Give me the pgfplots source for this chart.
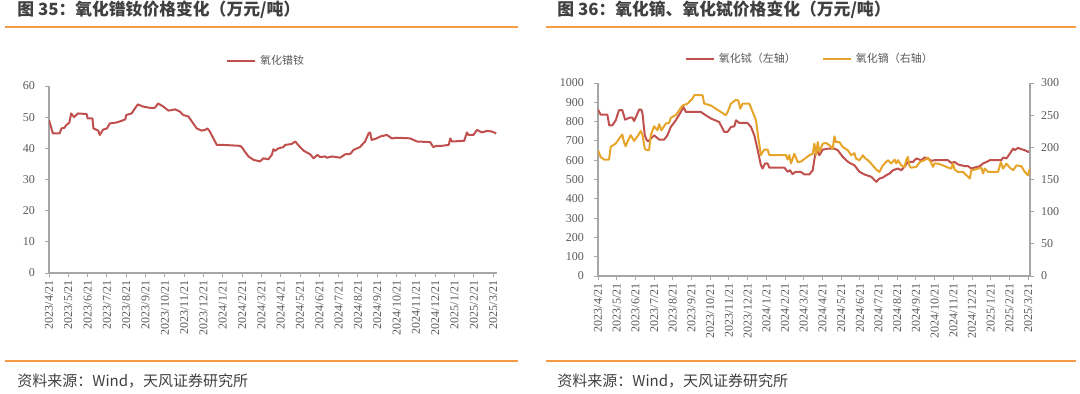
\documentclass[border=0pt]{standalone}
\usepackage{pgfplots}
\pgfplotsset{compat=1.18}
\usepackage{fontspec}
\setmainfont{Liberation Serif}
\newfontfamily\cjk{Noto Sans CJK SC}
\definecolor{rd}{HTML}{C0504D}
\definecolor{yl}{HTML}{E6A52A}
\definecolor{og}{HTML}{F59A45}
\definecolor{axg}{HTML}{A6A6A6}
\definecolor{lbl}{HTML}{595959}
\definecolor{ttl}{HTML}{404040}
\pgfplotsset{
  mybase/.style={
    scale only axis,
    xmin=0,
    xtick={0,...,23},
    xticklabels={2023/4/21,2023/5/21,2023/6/21,2023/7/21,2023/8/21,2023/9/21,2023/10/21,2023/11/21,2023/12/21,2024/1/21,2024/2/21,2024/3/21,2024/4/21,2024/5/21,2024/6/21,2024/7/21,2024/8/21,2024/9/21,2024/10/21,2024/11/21,2024/12/21,2025/1/21,2025/2/21,2025/3/21},
    tick align=outside,
    major tick length=2pt,
    tick style={axg, line width=0.5pt},
    axis line style={axg, line width=0.6pt, -},
    xticklabel style={rotate=90, anchor=east, font=\fontsize{6}{6}\selectfont, text=lbl, inner sep=1.5pt},
    yticklabel style={font=\fontsize{6}{6}\selectfont, text=lbl},
    /pgf/number format/assume math mode=true,
    /pgf/number format/1000 sep={},
  }
}
\begin{document}
\begin{tikzpicture}
\path[use as bounding box] (0pt,0pt) rectangle (540pt,-196.5pt);
\begin{scope}[x=0.5pt,y=-0.5pt]
\draw[og, line width=1pt] (5,27) -- (518,27);
\draw[og, line width=1pt] (546,27) -- (1076,27);
\draw[og, line width=1pt] (5,361) -- (518,361);
\draw[og, line width=1pt] (546,361) -- (1076,361);
\node[anchor=base west, inner sep=0pt, font=\cjk\bfseries\fontsize{8.4}{10}\selectfont, text=ttl] at (17,15) {图 35：氧化镨钕价格变化（万元/吨）};
\node[anchor=base west, inner sep=0pt, font=\cjk\bfseries\fontsize{8.4}{10}\selectfont, text=ttl] at (557,15) {图 36：氧化镝、氧化铽价格变化（万元/吨）};
\node[anchor=base west, inner sep=0pt, font=\cjk\fontsize{7.5}{9}\selectfont, text=ttl] at (17,386) {资料来源：Wind，天风证券研究所};
\node[anchor=base west, inner sep=0pt, font=\cjk\fontsize{7.5}{9}\selectfont, text=ttl] at (557,386) {资料来源：Wind，天风证券研究所};
\end{scope}

% ---------- left chart ----------
\begin{axis}[mybase, at={(24.5pt,-136.5pt)}, anchor=south west,
  width=224pt, height=93.5pt, xmax=23.2, ymin=0, ymax=60, ytick={0,10,...,60},
  axis x line*=bottom, axis y line*=left,
  yticklabel style={xshift=-1.5pt},
  legend style={at={(0.487,1.134)}, anchor=center, draw=none, fill=none,
    font=\cjk\fontsize{5.5}{6}\selectfont, text=lbl},
  legend image code/.code={\draw[#1,line width=1pt] (0pt,0pt) -- (14pt,0pt);}]
\addplot[rd, line width=1pt, line join=round] coordinates {
(0,49.1) (0.2,44.8) (0.55,44.8) (0.65,46.4) (0.8,46.6) (0.9,47.5) (1.05,48.2) (1.15,51.2) (1.3,50.0) (1.5,51.2) (1.95,51.0) (2.0,49.6) (2.25,49.6) (2.3,46.4) (2.55,45.7) (2.63,44.3) (2.8,46.0) (3.0,46.4) (3.15,48.0) (3.5,48.3) (3.75,48.8) (3.95,49.3) (4.0,50.7) (4.28,51.2) (4.45,52.8) (4.6,54.1) (4.87,53.4) (5.22,53.0) (5.48,53.0) (5.65,54.4) (5.92,53.4) (6.18,52.1) (6.53,52.5) (6.78,51.8) (6.95,50.7) (7.22,50.2) (7.4,48.6) (7.65,46.4) (7.9,45.7) (8.08,45.9) (8.2,46.4) (8.33,45.4) (8.51,43.2) (8.69,41.1) (9.03,41.1) (9.9,40.8) (9.98,40.4) (10.16,38.8) (10.33,37.4) (10.59,36.3) (10.93,35.8) (11.1,36.8) (11.36,36.5) (11.54,37.9) (11.62,39.7) (11.71,39.2) (11.88,40.0) (12.14,40.4) (12.23,41.1) (12.57,41.4) (12.75,42.2) (13.0,40.4) (13.2,39.2) (13.52,38.1) (13.7,36.8) (13.9,37.9) (14.04,37.2) (14.3,37.4) (14.39,37.0) (14.65,37.4) (15.08,37.0) (15.34,38.1) (15.6,38.2) (15.77,39.5) (16.1,40.4) (16.37,42.2) (16.55,44.8) (16.63,45.1) (16.71,42.7) (16.97,43.2) (17.15,43.8) (17.5,44.3) (17.75,43.2) (18.0,43.4) (18.7,43.2) (18.88,42.7) (19.05,42.2) (19.74,42.0) (19.9,40.4) (20.07,40.8) (20.33,40.8) (20.7,41.1) (20.78,43.2) (20.86,42.2) (21.5,42.4) (21.64,45.1) (21.72,44.3) (21.98,44.3) (22.16,45.9) (22.42,45.1) (22.68,45.6) (22.93,45.4) (23.16,44.8)
};
\addlegendentry{氧化镨钕}
\end{axis}

% ---------- right chart ----------
\begin{axis}[mybase, at={(299pt,-138pt)}, anchor=south west,
  width=216pt, height=96.5pt, xmax=23.1, ymin=0, ymax=1000, ytick={0,100,...,1000},
  axis x line*=bottom, axis y line*=left,
  yticklabel style={xshift=-1.5pt}]
\addplot[rd, line width=1pt, line join=round] coordinates {
(0,862) (0.14,836) (0.5,836) (0.6,781) (0.77,781) (0.95,807) (1.12,859) (1.3,859) (1.45,810) (1.7,821) (1.84,821) (1.93,803) (2.07,833) (2.2,862) (2.32,862) (2.38,841) (2.5,730) (2.6,705) (2.68,698) (3.0,729) (3.27,707) (3.54,707) (3.71,729) (3.89,772) (4.16,807) (4.43,850) (4.57,876) (4.7,850) (5.5,850) (5.68,838) (6.04,816) (6.48,798) (6.75,747) (6.93,747) (7.11,772) (7.29,776) (7.38,807) (7.55,793) (8.0,793) (8.18,772) (8.36,729) (8.54,652) (8.71,574) (8.8,557) (8.93,583) (9.07,583) (9.16,562) (9.96,562) (10.14,540) (10.27,548) (10.4,528) (10.57,540) (10.84,540) (11.04,526) (11.3,526) (11.48,548) (11.62,634) (11.75,643) (11.84,626) (12.02,655) (12.29,660) (12.64,660) (12.82,652) (13.09,617) (13.27,600) (13.45,586) (13.71,574) (13.98,540) (14.25,526) (14.61,514) (14.88,488) (15.05,505) (15.23,510) (15.41,522) (15.59,531) (15.77,548) (16.04,557) (16.21,548) (16.39,566) (16.57,591) (16.84,591) (17.02,609) (17.29,600) (17.46,614) (17.64,609) (17.82,597) (18.0,600) (18.36,600) (18.71,600) (18.89,586) (19.07,591) (19.25,578) (19.61,569) (19.79,569) (19.96,557) (20.14,562) (20.41,569) (20.59,583) (20.77,591) (20.95,600) (21.57,600) (21.66,614) (21.84,609) (22.02,634) (22.2,660) (22.29,652) (22.46,664) (22.64,657) (22.82,652) (23.0,643) (23.09,647)
};
\end{axis}
\begin{axis}[mybase, at={(299pt,-138pt)}, anchor=south west,
  width=216pt, height=96.5pt, xmax=23.1, ymin=0, ymax=300, ytick={0,50,...,300},
  axis x line=none, axis y line*=right,
  legend style={at={(0.493,1.124)}, anchor=center, draw=none, fill=none,
    font=\cjk\fontsize{5.5}{6}\selectfont, text=lbl, legend columns=2,
    /tikz/every even column/.append style={column sep=11pt}},
  legend image code/.code={\draw[#1,line width=1pt] (0pt,0pt) -- (14pt,0pt);}]
\addlegendimage{rd, line width=1pt}
\addlegendentry{氧化铽（左轴）}
\addplot[yl, line width=1pt, line join=round] coordinates {
(0,195.5) (0.14,185) (0.32,181) (0.59,181) (0.68,200.7) (0.95,206) (1.13,213.6) (1.3,220) (1.39,208) (1.48,201.7) (1.61,211) (1.75,218.8) (1.93,210) (2.11,217) (2.29,225.5) (2.38,219) (2.5,198) (2.61,195.5) (2.73,195.5) (2.82,218.8) (3.0,232.8) (3.18,226.5) (3.27,236) (3.39,226.5) (3.63,237) (3.8,238) (3.89,246) (4.16,250) (4.34,257.6) (4.52,265) (4.79,268) (5.05,275.7) (5.14,281) (5.59,281) (5.68,268) (6.04,265) (6.3,260) (6.57,255) (6.84,250) (6.93,255) (7.11,268) (7.38,274) (7.5,273) (7.61,260) (7.73,268) (8.09,268) (8.27,255) (8.45,242) (8.54,221) (8.71,188) (8.89,196.5) (9.07,196.5) (9.16,188) (10.05,188) (10.14,181) (10.23,188) (10.32,175) (10.5,190) (10.68,177) (10.86,178) (11.04,182) (11.3,187.7) (11.48,190) (11.57,205.8) (11.66,188) (11.75,208) (11.84,193) (12.02,205.8) (12.2,206.8) (12.38,203) (12.55,198) (12.64,217) (12.73,208) (12.91,208) (13.09,200.6) (13.36,195.4) (13.54,187.7) (13.71,191) (13.8,182.5) (13.98,180) (14.16,187.7) (14.25,184) (14.43,180) (14.61,174.7) (14.88,165.4) (15.05,161.8) (15.23,172) (15.5,180) (15.68,175) (15.86,181) (15.95,175) (16.04,180) (16.21,172) (16.39,169.6) (16.48,180) (16.57,185) (16.66,170.6) (16.75,168.5) (17.02,169.6) (17.2,177) (17.46,180) (17.64,184) (17.82,176) (17.91,169.6) (18.0,175) (18.18,174.7) (18.45,172) (18.71,168.5) (18.89,167) (18.98,175) (19.07,165.4) (19.25,161.8) (19.52,161.8) (19.7,156.6) (19.88,151.5) (19.96,164.4) (20.14,165.4) (20.32,167) (20.5,168.5) (20.59,159.2) (20.68,167) (20.86,161.8) (21.39,161.8) (21.54,177) (21.66,167) (21.84,174.7) (22.02,168.5) (22.2,164.4) (22.38,172) (22.64,170.6) (22.82,161.8) (23.0,156.6) (23.09,167)
};
\addlegendentry{氧化镝（右轴）}
\end{axis}
\end{tikzpicture}
\end{document}
